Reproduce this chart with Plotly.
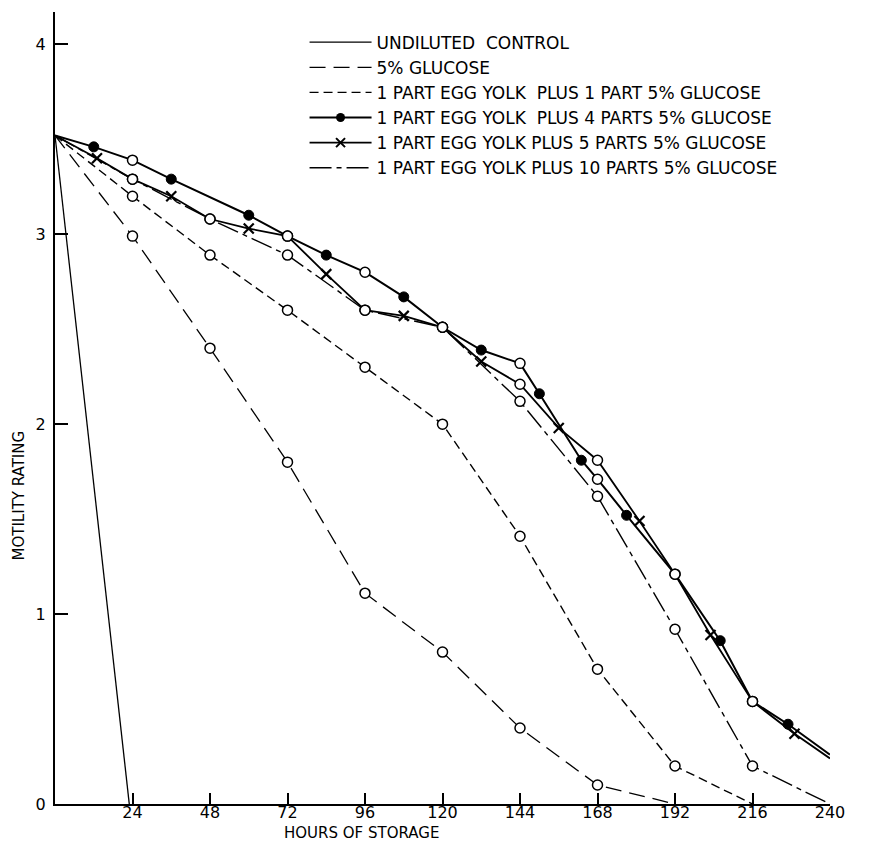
import plotly.graph_objects as go

# ---------------- data (hours of storage, motility rating) ----------------
control_hours = [0, 23]
control_vals = [3.52, 0.0]

glucose_hours = [0, 24, 48, 72, 96, 120, 144, 168, 192]
glucose_vals = [3.52, 2.99, 2.40, 1.80, 1.11, 0.80, 0.40, 0.10, 0.0]

one_part_hours = [0, 24, 48, 72, 96, 120, 144, 168, 192, 216]
one_part_vals = [3.52, 3.20, 2.89, 2.60, 2.30, 2.00, 1.41, 0.71, 0.20, 0.0]

four_parts_hours = [0, 12, 24, 36, 60, 72, 84, 96, 108, 120, 132, 144, 150,
                    163, 168, 177, 192, 206, 216, 227, 240]
four_parts_vals = [3.52, 3.46, 3.39, 3.29, 3.10, 2.99, 2.89, 2.80, 2.67, 2.51,
                   2.39, 2.32, 2.16, 1.81, 1.71, 1.52, 1.21, 0.86, 0.54, 0.42, 0.26]

five_parts_hours = [0, 13, 24, 36, 48, 60, 72, 84, 96, 108, 120, 132, 144, 156,
                    168, 181, 192, 203, 216, 229, 240]
five_parts_vals = [3.52, 3.40, 3.29, 3.20, 3.08, 3.03, 2.99, 2.79, 2.60, 2.57,
                   2.51, 2.33, 2.21, 1.98, 1.81, 1.49, 1.21, 0.89, 0.54, 0.37, 0.24]

ten_parts_hours = [0, 24, 48, 72, 96, 120, 144, 168, 192, 216, 240]
ten_parts_vals = [3.52, 3.29, 3.08, 2.89, 2.60, 2.51, 2.12, 1.62, 0.92, 0.20, 0.0]

names = [
    "UNDILUTED  CONTROL",
    "5% GLUCOSE",
    "1 PART EGG YOLK  PLUS 1 PART 5% GLUCOSE",
    "1 PART EGG YOLK  PLUS 4 PARTS 5% GLUCOSE",
    "1 PART EGG YOLK PLUS 5 PARTS 5% GLUCOSE",
    "1 PART EGG YOLK PLUS 10 PARTS 5% GLUCOSE",
]

x_ticks = [24, 48, 72, 96, 120, 144, 168, 192, 216, 240]
y_ticks = [0, 1, 2, 3, 4]

# ---------------- styles ----------------
FONT = "DejaVu Sans"
series = [
    (control_hours, control_vals, dict(width=1.3, dash="solid"), None),
    (glucose_hours, glucose_vals, dict(width=1.3, dash="16px,8px"), None),
    (one_part_hours, one_part_vals, dict(width=1.4, dash="9px,5px"), None),
    (four_parts_hours, four_parts_vals, dict(width=2.0, dash="solid"), "dot"),
    (five_parts_hours, five_parts_vals, dict(width=1.8, dash="solid"), "x"),
    (ten_parts_hours, ten_parts_vals, dict(width=1.4, dash="22px,5px,5px,5px"), None),
]

fig = go.Figure()

# lines first
for hrs, vals, ln, special in series:
    fig.add_trace(go.Scatter(x=hrs, y=vals, mode="lines",
                             line=dict(color="black", **ln),
                             showlegend=False, hoverinfo="skip"))

# markers on top
for hrs, vals, ln, special in series:
    syms, cols, sizes, lws = [], [], [], []
    last = len(hrs) - 1
    for i, h in enumerate(hrs):
        if i == 0 or i == last:
            syms.append("circle"); cols.append("white"); sizes.append(0); lws.append(0)
        elif h % 24 == 0:
            syms.append("circle"); cols.append("white"); sizes.append(10); lws.append(1.5)
        elif special == "dot":
            syms.append("circle"); cols.append("black"); sizes.append(10); lws.append(1)
        elif special == "x":
            syms.append("x-thin"); cols.append("black"); sizes.append(10); lws.append(2.2)
        else:
            syms.append("circle"); cols.append("white"); sizes.append(0); lws.append(0)
    fig.add_trace(go.Scatter(x=hrs, y=vals, mode="markers",
                             marker=dict(symbol=syms, color=cols, size=sizes, opacity=1,
                                         line=dict(color="black", width=lws)),
                             showlegend=False, hoverinfo="skip"))

# legend entries
for (hrs, vals, ln, special), nm in zip(series, names):
    if special == "dot":
        mk = dict(symbol="circle", color="black", size=9, opacity=1)
        mode = "lines+markers"
    elif special == "x":
        mk = dict(symbol="x-thin", color="black", size=9, opacity=1,
                  line=dict(color="black", width=2))
        mode = "lines+markers"
    else:
        mk = None
        mode = "lines"
    tr = dict(x=[None], y=[None], mode=mode, name=nm,
              line=dict(color="black", **ln), showlegend=True)
    if mk:
        tr["marker"] = mk
    fig.add_trace(go.Scatter(**tr))

fig.update_layout(
    width=872, height=833,
    margin=dict(l=47, r=50, t=4, b=37),
    paper_bgcolor="white", plot_bgcolor="white",
    font=dict(family=FONT, color="black", size=16),
    legend=dict(x=0.322, y=0.984, xanchor="left", yanchor="top",
                font=dict(family=FONT, size=17, color="black"),
                itemwidth=62, bgcolor="rgba(0,0,0,0)", tracegroupgap=0),
    annotations=[
        dict(text="HOURS OF STORAGE", xref="paper", yref="paper",
             x=0.395, y=-0.0365, xanchor="center", yanchor="middle",
             showarrow=False, font=dict(family=FONT, size=15)),
        dict(text="MOTILITY RATING", xref="paper", yref="paper",
             x=-0.046, y=0.39, xanchor="center", yanchor="middle",
             textangle=-90, showarrow=False, font=dict(family=FONT, size=15)),
    ],
)

fig.update_xaxes(range=[0, 240], tickvals=x_ticks, ticktext=[str(t) for t in x_ticks],
                 ticks="inside", ticklen=11, tickwidth=1.5, tickcolor="black",
                 ticklabelstandoff=-7,
                 showline=True, linecolor="black", linewidth=2,
                 showgrid=False, zeroline=False,
                 tickfont=dict(family=FONT, size=16))
fig.update_yaxes(range=[0, 4.17], tickvals=y_ticks, ticktext=[str(t) for t in y_ticks],
                 ticks="inside", ticklen=13, tickwidth=1.5, tickcolor="black",
                 ticklabelstandoff=4,
                 showline=True, linecolor="black", linewidth=2,
                 showgrid=False, zeroline=False,
                 tickfont=dict(family=FONT, size=16))

fig.write_html("out.html")
